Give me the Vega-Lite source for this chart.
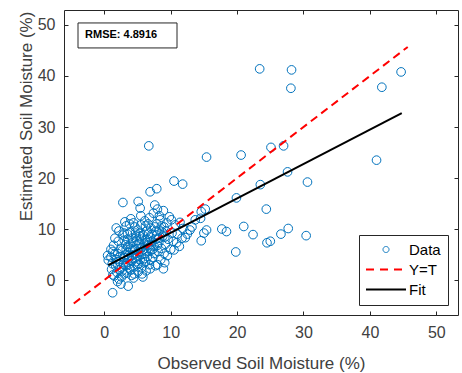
{
 "$schema": "https://vega.github.io/schema/vega-lite/v6.json",
 "width": 394, "height": 305,
 "autosize": {"type": "none"},
 "padding": {"left": 64, "top": 10, "right": 4, "bottom": 58},
 "background": "white",
 "config": {
  "font": "Liberation Sans",
  "view": {"stroke": "#262626", "strokeWidth": 1},
  "axis": {"domain": false, "grid": false, "tickSize": -4, "tickColor": "#262626", "labelFontSize": 16, "labelColor": "#404040", "labelFont": "Liberation Sans", "titleFont": "Liberation Sans", "titleFontSize": 17, "titleFontWeight": "normal", "titleColor": "#404040", "labelPadding": 13},
  "legend": {"orient": "bottom-right", "offset": 10, "strokeColor": "#262626", "fillColor": "white", "padding": 7, "labelFontSize": 15, "labelColor": "#000000", "labelFont": "Liberation Sans", "rowPadding": 4, "cornerRadius": 0}
 },
 "datasets": {
  "pts": [
   {"x":1.0,"y":4.5},{"x":1.2,"y":3.2},{"x":1.3,"y":5.6},{"x":1.1,"y":2.1},{"x":1.5,"y":0.8},{"x":1.4,"y":6.8},{"x":1.8,"y":4.0},{"x":1.7,"y":2.8},{"x":2.0,"y":5.2},{"x":2.1,"y":7.6},{"x":1.9,"y":1.5},{"x":2.3,"y":3.6},{"x":2.2,"y":0.2},{"x":2.5,"y":6.2},{"x":2.4,"y":4.6},{"x":2.6,"y":2.4},{"x":2.8,"y":8.8},{"x":2.7,"y":5.8},{"x":2.9,"y":3.1},{"x":2.5,"y":-0.8},{"x":3.0,"y":1.2},{"x":2.2,"y":9.6},{"x":1.6,"y":8.2},{"x":1.0,"y":6.0},{"x":0.6,"y":3.9},{"x":3.1,"y":4.9},{"x":1.3,"y":1.0},{"x":2.0,"y":-0.3},{"x":2.7,"y":1.8},{"x":1.8,"y":10.2},{"x":0.5,"y":4.8},{"x":1.25,"y":-2.5},{"x":3.6,"y":-1.2},{"x":2.6,"y":0.6},
   {"x":3.2,"y":6.9},{"x":3.4,"y":3.4},{"x":3.3,"y":10.6},{"x":3.6,"y":5.4},{"x":3.5,"y":8.0},{"x":3.8,"y":2.2},{"x":3.7,"y":4.2},{"x":3.9,"y":9.4},{"x":4.0,"y":6.2},{"x":4.1,"y":0.9},{"x":4.2,"y":3.8},{"x":4.3,"y":7.4},{"x":4.4,"y":11.2},{"x":4.5,"y":5.0},{"x":4.6,"y":2.6},{"x":4.8,"y":8.6},{"x":4.7,"y":4.4},{"x":4.9,"y":6.8},{"x":5.0,"y":9.8},{"x":5.0,"y":3.0},{"x":4.4,"y":0.4},{"x":3.1,"y":11.4},{"x":4.0,"y":12.0},{"x":3.4,"y":1.4},{"x":4.6,"y":10.4},{"x":5.1,"y":1.6},{"x":3.9,"y":7.0},{"x":4.3,"y":5.8},{"x":3.2,"y":2.8},{"x":4.8,"y":3.6},{"x":3.5,"y":9.0},{"x":4.1,"y":4.8},{"x":4.9,"y":7.8},{"x":3.8,"y":11.0},{"x":4.5,"y":1.2},{"x":3.3,"y":6.0},{"x":5.2,"y":5.4},
   {"x":5.3,"y":7.2},{"x":5.4,"y":4.0},{"x":5.5,"y":10.8},{"x":5.6,"y":2.4},{"x":5.7,"y":6.4},{"x":5.8,"y":8.8},{"x":5.9,"y":3.4},{"x":6.0,"y":5.2},{"x":6.1,"y":11.6},{"x":6.2,"y":7.8},{"x":6.3,"y":1.8},{"x":6.4,"y":9.6},{"x":6.5,"y":4.6},{"x":6.6,"y":6.8},{"x":6.8,"y":3.0},{"x":6.9,"y":8.4},{"x":7.0,"y":5.8},{"x":5.5,"y":12.6},{"x":6.2,"y":10.6},{"x":5.8,"y":0.6},{"x":6.9,"y":2.2},{"x":5.4,"y":9.2},{"x":6.6,"y":11.0},{"x":5.9,"y":6.0},{"x":6.4,"y":7.4},{"x":5.2,"y":3.2},{"x":7.0,"y":10.2},{"x":6.1,"y":4.2},{"x":5.6,"y":8.0},{"x":6.8,"y":12.2},{"x":6.3,"y":5.6},{"x":5.7,"y":1.2},{"x":7.1,"y":7.0},
   {"x":7.2,"y":9.0},{"x":7.3,"y":4.4},{"x":7.4,"y":13.1},{"x":7.5,"y":6.6},{"x":7.6,"y":14.7},{"x":7.7,"y":2.8},{"x":7.8,"y":8.0},{"x":7.9,"y":11.0},{"x":8.0,"y":13.9},{"x":8.1,"y":5.6},{"x":8.2,"y":7.4},{"x":8.3,"y":9.8},{"x":8.4,"y":11.8},{"x":8.5,"y":4.0},{"x":8.6,"y":6.2},{"x":8.8,"y":8.6},{"x":8.9,"y":13.6},{"x":9.0,"y":10.4},{"x":9.1,"y":3.4},{"x":9.2,"y":7.0},{"x":7.6,"y":10.4},{"x":8.0,"y":3.0},{"x":8.7,"y":9.4},{"x":7.3,"y":6.0},{"x":9.0,"y":5.2},{"x":8.9,"y":2.2},{"x":7.9,"y":8.8},{"x":8.3,"y":12.6},
   {"x":9.4,"y":11.2},{"x":9.6,"y":8.0},{"x":9.8,"y":12.4},{"x":10.0,"y":6.0},{"x":10.2,"y":9.2},{"x":10.5,"y":5.9},{"x":10.7,"y":10.8},{"x":10.9,"y":7.3},{"x":11.4,"y":11.3},{"x":11.7,"y":8.2},{"x":11.8,"y":10.1},{"x":12.2,"y":8.3},{"x":12.9,"y":9.8},{"x":13.7,"y":11.8},{"x":9.5,"y":4.8},{"x":10.4,"y":7.6},{"x":11.0,"y":9.0},{"x":12.5,"y":9.0},{"x":13.2,"y":10.4},{"x":10.1,"y":11.8},{"x":9.3,"y":9.6},{"x":11.3,"y":6.6},
   {"x":2.3,"y":2.0},{"x":2.9,"y":4.4},{"x":3.5,"y":6.6},{"x":3.0,"y":7.8},{"x":3.7,"y":3.0},{"x":4.2,"y":8.2},{"x":4.6,"y":6.0},{"x":5.0,"y":4.6},{"x":5.3,"y":8.6},{"x":5.6,"y":5.0},{"x":6.0,"y":7.0},{"x":6.2,"y":3.6},{"x":6.6,"y":9.0},{"x":6.9,"y":6.2},{"x":7.2,"y":7.6},{"x":7.5,"y":5.2},{"x":7.8,"y":9.6},{"x":8.2,"y":8.2},{"x":8.6,"y":10.6},{"x":9.1,"y":8.4},{"x":4.0,"y":2.0},{"x":3.0,"y":9.2},{"x":2.0,"y":3.0},{"x":1.5,"y":5.0},{"x":5.5,"y":6.2},{"x":6.5,"y":8.0},{"x":4.7,"y":9.2},{"x":7.0,"y":4.0},{"x":8.0,"y":6.8},{"x":3.6,"y":4.8},
   {"x":2.8,"y":15.2},{"x":5.1,"y":15.4},{"x":5.4,"y":14.1},{"x":6.9,"y":17.3},{"x":7.9,"y":17.9},{"x":10.5,"y":19.4},{"x":11.8,"y":18.8},{"x":6.7,"y":26.3},
   {"x":14.5,"y":12.1},{"x":15.2,"y":13.9},{"x":14.6,"y":13.4},{"x":15.4,"y":9.8},{"x":15.0,"y":9.2},{"x":14.6,"y":7.7},{"x":17.7,"y":10.0},{"x":18.4,"y":9.5},{"x":21.0,"y":10.5},{"x":22.4,"y":8.9},{"x":24.5,"y":7.3},{"x":25.0,"y":7.6},{"x":26.6,"y":9.0},{"x":27.7,"y":10.1},{"x":30.4,"y":8.7},{"x":19.8,"y":5.5},
   {"x":15.4,"y":24.1},{"x":20.6,"y":24.5},{"x":25.1,"y":26.0},{"x":27.0,"y":26.3},{"x":27.6,"y":21.2},{"x":23.5,"y":18.7},{"x":19.9,"y":16.1},{"x":24.4,"y":13.9},{"x":30.6,"y":19.2},{"x":41.0,"y":23.5},{"x":23.4,"y":41.4},{"x":28.2,"y":41.2},{"x":28.1,"y":37.6},{"x":44.7,"y":40.8},{"x":41.8,"y":37.8}
  ],
  "ideal": [{"series":"Y=T","x":-4.6,"y":-4.6},{"series":"Y=T","x":45.7,"y":45.7}],
  "fit": [{"series":"Fit","x":0.6,"y":2.94},{"series":"Fit","x":44.8,"y":32.7}],
  "box": [{"x":-3.96,"x2":10.95,"y":45.5,"y2":50.4,"tx":-2.9,"ty":48.0,"label":"RMSE: 4.8916"}]
 },
 "layer": [
  {
   "data": {"name": "box"},
   "mark": {"type": "rect", "fill": "white", "stroke": "#262626", "strokeWidth": 1},
   "encoding": {
    "x": {"field": "x", "type": "quantitative", "scale": {"domain": [-6.07, 53.27], "nice": false, "zero": false}, "axis": {"orient": "top", "values": [0,10,20,30,40,50], "labels": false, "title": null}},
    "x2": {"field": "x2"},
    "y": {"field": "y", "type": "quantitative", "scale": {"domain": [-6.86, 52.94], "nice": false, "zero": false}, "axis": {"orient": "right", "values": [0,10,20,30,40,50], "labels": false, "title": null}},
    "y2": {"field": "y2"}
   }
  },
  {
   "data": {"name": "box"},
   "mark": {"type": "text", "align": "left", "baseline": "middle", "fontSize": 11, "fontWeight": "bold", "font": "Liberation Sans", "color": "#000000"},
   "encoding": {
    "x": {"field": "tx", "type": "quantitative", "axis": null},
    "y": {"field": "ty", "type": "quantitative", "axis": null},
    "text": {"field": "label"}
   }
  },
  {
   "data": {"name": "pts"},
   "mark": {"type": "point", "shape": "circle", "filled": false, "strokeWidth": 1, "size": 75, "opacity": 1},
   "encoding": {
    "x": {"field": "x", "type": "quantitative", "axis": {"orient": "bottom", "values": [0,10,20,30,40,50], "title": "Observed Soil Moisture (%)", "titlePadding": 15}},
    "y": {"field": "y", "type": "quantitative", "axis": {"orient": "left", "values": [0,10,20,30,40,50], "title": "Estimated Soil Moisture (%)", "titlePadding": 2, "titleY": 106}},
    "color": {"datum": "Data", "type": "nominal",
     "scale": {"domain": ["Data", "Y=T", "Fit"], "range": ["#0072BD", "#FF0000", "#000000"]},
     "legend": {"title": null,
      "encode": {
       "symbols": {"update": {
        "x": {"value": 20},
        "shape": {"signal": "datum.value === 'Data' ? 'circle' : 'M-1,0H1'"},
        "size": {"signal": "datum.value === 'Data' ? 36 : 1600"},
        "strokeDash": {"signal": "datum.value === 'Y=T' ? [8,6] : [1,0]"},
        "strokeWidth": {"signal": "datum.value === 'Data' ? 1 : 2"},
        "stroke": {"signal": "scale('color', datum.value)"},
        "fill": {"value": "transparent"},
        "opacity": {"value": 1}
       }},
       "labels": {"update": {"x": {"value": 43}}}
      }
     }
    }
   }
  },
  {
   "data": {"name": "ideal"},
   "mark": {"type": "line", "strokeWidth": 2, "strokeDash": [8, 5]},
   "encoding": {
    "x": {"field": "x", "type": "quantitative", "axis": null},
    "y": {"field": "y", "type": "quantitative", "axis": null},
    "color": {"field": "series", "type": "nominal",
     "legend": {"title": null,
      "encode": {
       "symbols": {"update": {
        "x": {"value": 20},
        "shape": {"signal": "datum.value === 'Data' ? 'circle' : 'M-1,0H1'"},
        "size": {"signal": "datum.value === 'Data' ? 36 : 1600"},
        "strokeDash": {"signal": "datum.value === 'Y=T' ? [8,6] : [1,0]"},
        "strokeWidth": {"signal": "datum.value === 'Data' ? 1 : 2"},
        "stroke": {"signal": "scale('color', datum.value)"},
        "fill": {"value": "transparent"},
        "opacity": {"value": 1}
       }},
       "labels": {"update": {"x": {"value": 43}}}
      }
     }
    }
   }
  },
  {
   "data": {"name": "fit"},
   "mark": {"type": "line", "strokeWidth": 2},
   "encoding": {
    "x": {"field": "x", "type": "quantitative", "axis": null},
    "y": {"field": "y", "type": "quantitative", "axis": null},
    "color": {"field": "series", "type": "nominal",
     "legend": {"title": null,
      "encode": {
       "symbols": {"update": {
        "x": {"value": 20},
        "shape": {"signal": "datum.value === 'Data' ? 'circle' : 'M-1,0H1'"},
        "size": {"signal": "datum.value === 'Data' ? 36 : 1600"},
        "strokeDash": {"signal": "datum.value === 'Y=T' ? [8,6] : [1,0]"},
        "strokeWidth": {"signal": "datum.value === 'Data' ? 1 : 2"},
        "stroke": {"signal": "scale('color', datum.value)"},
        "fill": {"value": "transparent"},
        "opacity": {"value": 1}
       }},
       "labels": {"update": {"x": {"value": 43}}}
      }
     }
    }
   }
  }
 ],
 "resolve": {"axis": {"x": "independent", "y": "independent"}}
}
